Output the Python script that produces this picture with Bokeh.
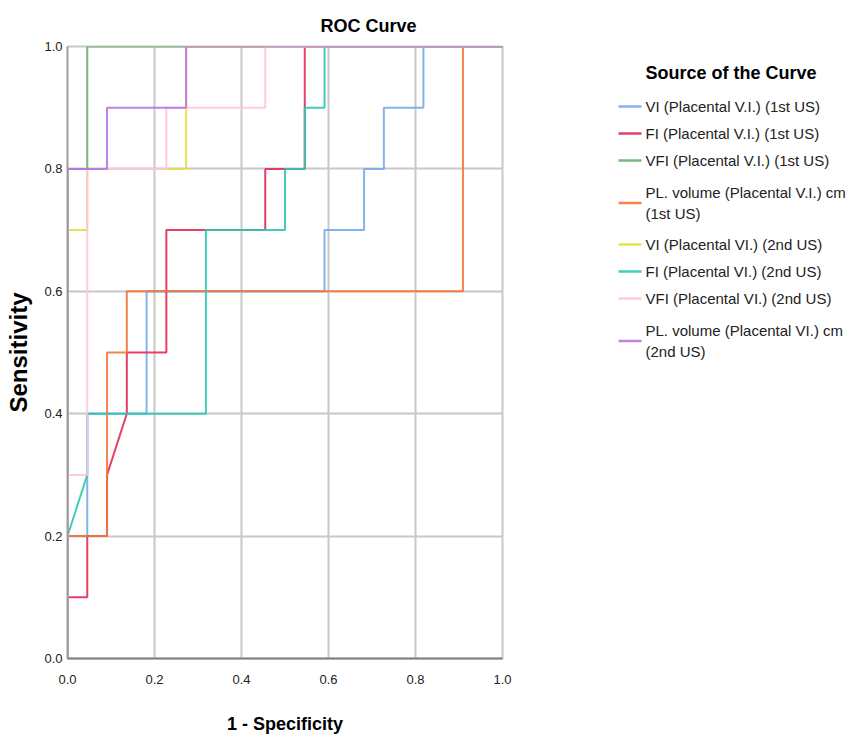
from bokeh.plotting import figure
from bokeh.models import FixedTicker, Range1d, PrintfTickFormatter
from bokeh.core.properties import value
from bokeh.layouts import row
from bokeh.embed import file_html
from bokeh.resources import INLINE

# ---- data (1 - specificity as false-positive counts out of N_NEG, sensitivity) ----
N_NEG = 22
series_names = [
    "VI (Placental V.I.) (1st US)",
    "FI (Placental V.I.) (1st US)",
    "VFI (Placental V.I.) (1st US)",
    "PL. volume (Placental V.I.) cm\n(1st US)",
    "VI (Placental VI.) (2nd US)",
    "FI (Placental VI.) (2nd US)",
    "VFI (Placental VI.) (2nd US)",
    "PL. volume (Placental VI.) cm\n(2nd US)",
]
vi1_fp = [0, 0, 1, 1, 4, 4, 13, 13, 15, 15, 16, 16, 18, 18, 22]
vi1_tp = [0, 0.2, 0.2, 0.4, 0.4, 0.6, 0.6, 0.7, 0.7, 0.8, 0.8, 0.9, 0.9, 1.0, 1.0]
fi1_fp = [0, 0, 1, 1, 2, 2, 3, 3, 5, 5, 10, 10, 12, 12, 22]
fi1_tp = [0, 0.1, 0.1, 0.2, 0.2, 0.3, 0.4, 0.5, 0.5, 0.7, 0.7, 0.8, 0.8, 1.0, 1.0]
vfi1_fp = [0, 0, 1, 1, 22]
vfi1_tp = [0, 0.8, 0.8, 1.0, 1.0]
pl1_fp = [0, 0, 2, 2, 3, 3, 20, 20, 22]
pl1_tp = [0, 0.2, 0.2, 0.5, 0.5, 0.6, 0.6, 1.0, 1.0]
vi2_fp = [0, 0, 1, 1, 6, 6, 22]
vi2_tp = [0, 0.7, 0.7, 0.8, 0.8, 1.0, 1.0]
fi2_fp = [0, 0, 1, 1, 7, 7, 11, 11, 12, 12, 13, 13, 22]
fi2_tp = [0, 0.2, 0.3, 0.4, 0.4, 0.7, 0.7, 0.8, 0.8, 0.9, 0.9, 1.0, 1.0]
vfi2_fp = [0, 0, 1, 1, 5, 5, 10, 10, 22]
vfi2_tp = [0, 0.3, 0.3, 0.8, 0.8, 0.9, 0.9, 1.0, 1.0]
pl2_fp = [0, 0, 2, 2, 6, 6, 22]
pl2_tp = [0, 0.8, 0.8, 0.9, 0.9, 1.0, 1.0]
tick_values = [0.0, 0.2, 0.4, 0.6, 0.8, 1.0]

colors = ["#76abec", "#e32b55", "#6aaf6a", "#f27538",
          "#e6de40", "#2fc8b0", "#ffc5da", "#b673e6"]
all_fp = [vi1_fp, fi1_fp, vfi1_fp, pl1_fp, vi2_fp, fi2_fp, vfi2_fp, pl2_fp]
all_tp = [vi1_tp, fi1_tp, vfi1_tp, pl1_tp, vi2_tp, fi2_tp, vfi2_tp, pl2_tp]

FONT = "Liberation Sans"
P_W, TOTAL_W, TOTAL_H = 512, 849, 739
B_LEFT, B_RIGHT, B_TOP, B_BOTTOM = 67, 10, 46, 81

p = figure(width=P_W, height=TOTAL_H, output_backend="svg",
           toolbar_location=None, x_range=Range1d(0, 1), y_range=Range1d(0, 1),
           min_border_left=B_LEFT, min_border_right=B_RIGHT, min_border_top=B_TOP,
           min_border_bottom=B_BOTTOM, title="ROC Curve")
p.background_fill_color = "white"
p.border_fill_color = "white"
p.outline_line_color = "#c8c8c8"
p.outline_line_width = 2

p.title.text_font = FONT
p.title.text_font_size = "18px"
p.title.text_font_style = "bold"
p.title.text_color = "black"
p.title.align = "left"
p.title.offset = 253
p.title.standoff = 22

for ax in (p.xaxis[0], p.yaxis[0]):
    ax.ticker = FixedTicker(ticks=tick_values)
    ax.formatter = PrintfTickFormatter(format="%.1f")
    ax.major_tick_in = 0
    ax.major_tick_out = 0
    ax.minor_tick_in = 0
    ax.minor_tick_out = 0
    ax.major_label_text_font = FONT
    ax.major_label_text_font_size = "13px"
    ax.major_label_text_color = "#222222"
    ax.axis_label_text_font = FONT
    ax.axis_label_text_font_style = "bold"
    ax.axis_label_text_color = "black"

p.xaxis[0].axis_label = "1 - Specificity"
p.xaxis[0].axis_label_text_font_size = "18px"
p.xaxis[0].major_label_standoff = 16
p.xaxis[0].axis_label_standoff = 27
p.xaxis[0].axis_line_color = "#808080"
p.xaxis[0].axis_line_width = 2

p.yaxis[0].axis_label = "Sensitivity"
p.yaxis[0].axis_label_text_font_size = "24px"
p.yaxis[0].major_label_standoff = 5
p.yaxis[0].axis_label_standoff = 9
p.yaxis[0].axis_line_color = "#9a9a9a"
p.yaxis[0].axis_line_width = 1.5

p.xgrid.grid_line_color = "#c8c8c8"
p.ygrid.grid_line_color = "#c8c8c8"
p.xgrid.grid_line_width = 2
p.ygrid.grid_line_width = 2

for name, fp, tp, c in zip(series_names, all_fp, all_tp, colors):
    xs = [v / N_NEG for v in fp]
    p.line(xs, tp, line_color=c, line_width=2, line_alpha=0.9)

# ---- legend panel (page-pixel coordinates, y downward) ----
# the row aligns this panel's frame with the chart frame (rows B_TOP..H-B_BOTTOM)
LW = TOTAL_W - P_W
lf = figure(width=LW, height=TOTAL_H, output_backend="svg", toolbar_location=None,
            x_axis_location=None, y_axis_location=None,
            x_range=Range1d(0, LW), y_range=Range1d(TOTAL_H - B_BOTTOM, B_TOP),
            min_border_left=0, min_border_right=0,
            min_border_top=B_TOP, min_border_bottom=B_BOTTOM,
            outline_line_color=None)
lf.grid.visible = False
lf.background_fill_color = "white"
lf.border_fill_color = "white"

glyph_x0, glyph_x1, text_x = 106, 129, 133
title_y = 72
first_y = 106
row_step = 27
line_step = 21
multi_extra = 5

lf.text(x=[text_x], y=[title_y], text=["Source of the Curve"],
        text_font=value(FONT), text_font_size="18px", text_font_style="bold",
        text_color="black", text_baseline="middle", text_align="left")

y = first_y
tx, ty, tt = [], [], []
gy = []
for i, name in enumerate(series_names):
    lines = name.split("\n")
    if len(lines) > 1 and i > 0:
        y += multi_extra
    for k, ln in enumerate(lines):
        tx.append(text_x)
        ty.append(y + k * line_step)
        tt.append(ln)
    if len(lines) == 1:
        gy.append(y)
    else:
        gy.append(y + (len(lines) - 1) * line_step / 2)
    y += row_step + (len(lines) - 1) * (line_step + 4)

lf.segment(x0=[glyph_x0] * len(gy), y0=gy, x1=[glyph_x1] * len(gy), y1=gy,
           line_color=colors, line_width=2.5, line_alpha=0.9)
lf.text(x=tx, y=ty, text=tt, text_font=value(FONT), text_font_size="15px",
        text_color="#222222", text_baseline="middle", text_align="left")

layout = row(p, lf, spacing=0)
open("out.html", "w").write(file_html(layout, INLINE))
